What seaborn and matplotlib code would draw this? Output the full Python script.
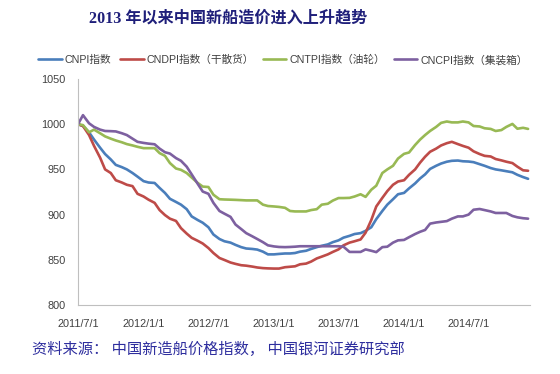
import numpy as np
import pandas as pd
import matplotlib
matplotlib.use("Agg")
import matplotlib.pyplot as plt
import seaborn as sns

# ---------------- data (semi-monthly readings) ----------------
dates = pd.date_range("2011-07-01", periods=84, freq="SMS")

cnpi = [1000, 998, 991, 983, 974, 967, 961, 955, 952.5, 950,
        946, 942, 937, 935.5, 935, 929.5, 924, 917.5, 914, 911,
        906, 898, 894, 891, 886, 878, 873, 870.5, 869, 866.5,
        864, 862.5, 862, 861.3, 859, 856, 856, 856.5, 857, 857,
        857.5, 859, 860, 862, 864, 865.5, 867, 869.5, 871.5, 874.5,
        876.5, 878.5, 879.5, 882, 886, 895, 904, 911, 917, 922.5,
        924, 929, 934.5, 940, 944.5, 950.5, 954, 956.5, 958.5, 959.5,
        959.8, 959, 958.7, 958, 955.8, 954, 951.5, 950, 949, 948,
        946.8, 944, 941.5, 939.6]

cndpi = [1000, 998, 988, 976, 963, 950, 946, 938, 935.5, 933,
         931.5, 923, 920, 916.5, 913, 905, 899.5, 895.5, 893, 885,
         879, 874.3, 871, 868, 863, 857.5, 852, 849.8, 847, 845.5,
         844, 843.5, 842.5, 841.5, 840.8, 840.5, 840.3, 840.3, 841.8, 842.3,
         842.8, 845, 845.8, 848, 851.5, 853.5, 856, 858.7, 861.5, 866,
         869, 870.5, 872.5, 880, 894, 909, 918.5, 926, 933, 936.6,
         938, 944, 950, 957.5, 964, 969.5, 973, 976.5, 979, 980.5,
         978, 976, 974, 970, 967, 965, 964.3, 961.5, 960, 958.5,
         957, 953, 949, 948.5]

cntpi = [1000, 999, 991, 994, 990, 986.5, 984, 982, 980, 978,
         976.5, 975, 973.5, 973.5, 973.5, 968, 965, 957, 951, 949.5,
         946, 941, 935, 931, 930.5, 922, 917, 916.7, 916.5, 916.3,
         916, 915.7, 915.7, 915.7, 911, 909.5, 909, 908.5, 907.5, 904,
         903.5, 903.5, 903.5, 905, 906, 911, 912, 915.5, 918.3, 918.3,
         918.5, 920, 922.5, 919.6, 927.5, 932, 946, 950, 954, 962,
         967.2, 968.7, 977, 983, 988, 992.5, 997, 1001.5, 1003, 1002,
         1002, 1003, 1002, 998, 997.5, 995.5, 994.8, 992.5, 993.5, 997,
         1000.3, 995, 996, 994.8]

cncpi = [1000, 1010, 1001, 997, 994, 992.5, 992.3, 992, 990, 988,
         984, 980.5, 979.3, 978.5, 977.8, 973, 969, 967.5, 962.5, 959.5,
         953, 944.5, 934, 925.5, 923, 913, 904, 901, 897.5, 889,
         884, 879.5, 876, 873, 869.5, 866, 864.8, 864.2, 864, 864.2,
         864.5, 865, 865, 865, 865, 865, 865, 865, 865, 864.5,
         858.7, 858.7, 858.7, 861.5, 860, 858.5, 864, 864.5, 869, 871.5,
         872, 875, 878.5, 881, 883, 890, 891.3, 892, 892.8, 895.5,
         898, 898, 900, 905.4, 906.2, 905, 903.5, 901.8, 901.8, 901.8,
         898.5, 897, 896, 895.5]

series_names = ["CNPI指数", "CNDPI指数（干散货）", "CNTPI指数（油轮）", "CNCPI指数（集装箱）"]
tick_dates = ["2011-07-01", "2012-01-01", "2012-07-01", "2013-01-01",
              "2013-07-01", "2014-01-01", "2014-07-01"]
tick_labels = ["2011/7/1", "2012/1/1", "2012/7/1", "2013/1/1",
               "2013/7/1", "2014/1/1", "2014/7/1"]
y_ticks = [800, 850, 900, 950, 1000, 1050]
title = "2013 年以来中国新船造价进入上升趋势"
source = "资料来源： 中国新造船价格指数， 中国银河证券研究部"

# ---------------- style ----------------
colors = ["#4A7EBB", "#BE4B48", "#98B954", "#7D60A0"]
sns.set_style("white")
plt.rcParams["font.family"] = ["Liberation Sans", "Noto Sans CJK SC", "DejaVu Sans"]

df = pd.DataFrame({
    "date": np.tile(dates, 4),
    "value": cnpi + cndpi + cntpi + cncpi,
    "series": np.repeat(series_names, len(dates)),
})

fig = plt.figure(figsize=(5.6, 3.74), dpi=100)
ax = fig.add_axes([78 / 560, 69 / 374, 451.5 / 560, 226 / 374])

sns.lineplot(data=df, x="date", y="value", hue="series", hue_order=series_names,
             palette=colors, linewidth=1.9, ax=ax)

ax.set_xlim(pd.Timestamp("2011-07-01"), pd.Timestamp("2014-12-19"))
ax.set_ylim(800, 1050)
ax.set_yticks(y_ticks)
ax.set_xticks(pd.to_datetime(tick_dates))
ax.set_xticklabels(tick_labels)
ax.set_xlabel("")
ax.set_ylabel("")

gray = "#BFBFBF"
for s in ["top", "right"]:
    ax.spines[s].set_visible(False)
for s in ["left", "bottom"]:
    ax.spines[s].set_color(gray)
    ax.spines[s].set_linewidth(0.8)
ax.tick_params(axis="both", colors=gray, labelcolor="#404040", labelsize=7.8,
               length=4, width=0.8, direction="out")
ax.tick_params(axis="x", pad=6)
ax.tick_params(axis="y", pad=5)

sns.move_legend(ax, "center", bbox_to_anchor=((283 - 78) / 451.5, (305 - 60) / 226),
                ncol=4, frameon=False, title=None, fontsize=7.7,
                handlelength=2.2, handletextpad=0.3, columnspacing=0.8)
for t in ax.get_legend().get_texts():
    t.set_color("#404040")

fig.text(228 / 560, 1 - 19 / 374, title, ha="center", va="center",
         fontsize=11.6, fontweight="bold", color="#1F1F7A",
         family=["Liberation Serif", "Noto Sans CJK SC"])
fig.text(32 / 560, 1 - 349 / 374, source, ha="left", va="center",
         fontsize=11, color="#2E2E9E", style="italic",
         family=["Noto Sans CJK SC", "DejaVu Sans"])

fig.savefig("out.png", dpi=100, facecolor="white")
